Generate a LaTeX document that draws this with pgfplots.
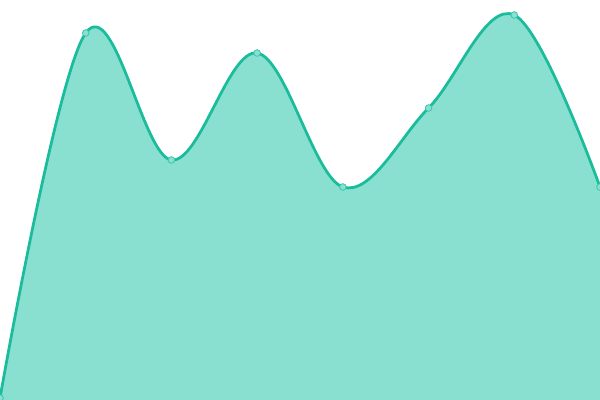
\documentclass[border=0pt]{standalone}
\usepackage{pgfplots}
\pgfplotsset{compat=1.18}
\definecolor{teal1}{HTML}{1ABC9C}
\definecolor{tealfill}{HTML}{8AE0D0}
\begin{document}
\begin{tikzpicture}
\begin{axis}[
    width=6in, height=4in,
    scale only axis,
    hide axis,
    xmin=0, xmax=7,
    ymin=0, ymax=400,
    clip=true,
    clip mode=individual,
]
\addplot[draw=none, fill=tealfill, smooth, tension=0.6] coordinates {
    (0,2) (1,367) (2,240) (3,347) (4,213) (5,292) (6,385) (7,213)
} \closedcycle;
\addplot[teal1, line width=2pt, smooth, tension=0.6,
    mark=*, mark size=2.4pt,
    mark options={fill=tealfill, draw=teal1!70!tealfill, line width=0.6pt}] coordinates {
    (0,2) (1,367) (2,240) (3,347) (4,213) (5,292) (6,385) (7,213)
};
\end{axis}
\pgfresetboundingbox
\useasboundingbox (0,0) rectangle (6in,4in);
\end{tikzpicture}
\end{document}
